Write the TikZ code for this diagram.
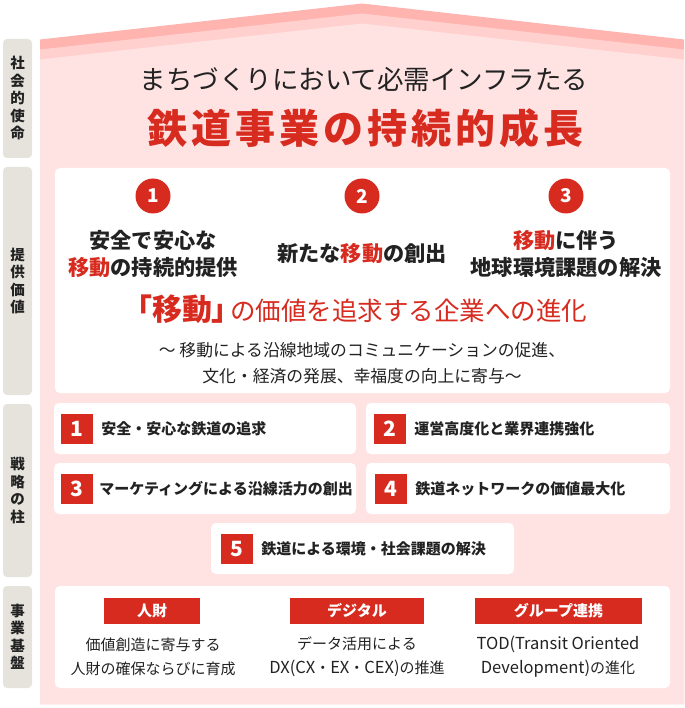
\documentclass[tikz,border=0pt]{standalone}
\usepackage{fontspec}
\setmainfont{Noto Sans CJK JP}
\definecolor{jred}{HTML}{D72B20}
\definecolor{roofdark}{HTML}{FFB4B0}
\definecolor{rooflight}{HTML}{FFD0CE}
\definecolor{pinkbg}{HTML}{FFE3E3}
\definecolor{tabgray}{HTML}{E6E3DD}
\definecolor{txt}{HTML}{222222}
\newcommand{\lat}[1]{{\fontsize{16.5}{24}\selectfont #1}}
\tikzset{
  tabbox/.style={fill=tabgray, rounded corners=4pt, minimum width=29pt, inner sep=0pt, text=txt,
    font=\fontsize{14.5}{17.5}\selectfont\bfseries, align=center},
  whitebox/.style={fill=white, rounded corners=5pt, inner sep=0pt},
  numcircle/.style={circle, fill=jred, minimum size=35pt, inner sep=0pt, text=white,
    font=\fontsize{19}{19}\selectfont\bfseries},
  numsq/.style={fill=jred, minimum width=32pt, minimum height=30pt, inner sep=0pt, text=white,
    font=\fontsize{21}{21}\selectfont\bfseries},
  valtxt/.style={text=txt, align=center, font=\fontsize{21.2}{27}\selectfont\bfseries},
  sttxt/.style={text=txt, anchor=west, inner sep=0pt, font=\fontsize{15}{15}\selectfont\bfseries},
  baselbl/.style={fill=jred, minimum height=26pt, inner sep=0pt, text=white,
    font=\fontsize{15}{15}\selectfont\bfseries},
  basetxt/.style={text=txt, align=center, font=\fontsize{15}{24}\selectfont},
}
\begin{document}
\begin{tikzpicture}[x=1pt,y=-1pt]
\useasboundingbox (0,0) rectangle (684,708);
% house
\fill[roofdark] (40,39.5) -- (362,3.5) -- (684,39.5) -- (684,704) -- (40,704) -- cycle;
\fill[rooflight] (40,49.5) -- (362,13.5) -- (684,49.5) -- (684,704) -- (40,704) -- cycle;
\fill[pinkbg] (40,59.5) -- (362,23.5) -- (684,59.5) -- (684,704) -- (40,704) -- cycle;
% side tabs
\node[tabbox, minimum height=119pt] (t1) at (17.5,98.5) {社\\会\\的\\使\\命};
\node[tabbox, minimum height=228pt] (t2) at (17.5,281) {提\\供\\価\\値};
\node[tabbox, minimum height=173pt] (t3) at (17.5,490.5) {戦\\略\\の\\柱};
\node[tabbox, minimum height=102pt] (t4) at (17.5,637) {事\\業\\基\\盤};
% mission
\node[text=txt, font=\fontsize{26.5}{26.5}\selectfont] (m1) at (364,79) {まちづくりにおいて必需インフラたる};
\node[text=jred, font=\fontsize{40}{40}\selectfont\bfseries\addfontfeature{LetterSpace=10}] (m2) at (365,128) {鉄道事業の持続的成長};
% value box
\node[whitebox, minimum width=615pt, minimum height=225pt] (vb) at (362.5,280.5) {};
\node[numcircle] (c1) at (153,196) {1};
\node[numcircle] (c2) at (362,196) {2};
\node[numcircle] (c3) at (566,196) {3};
\node[valtxt] (v1) at (153,254) {安全で安心な\\\textcolor{jred}{移動}の持続的提供};
\node[valtxt] (v2) at (362,254) {新たな\textcolor{jred}{移動}の創出};
\node[valtxt] (v3) at (566,254) {\textcolor{jred}{移動}に伴う\\地球環境課題の解決};
\node[text=jred, font=\fontsize{25.5}{25.5}\selectfont] (ev) at (362,309) {{\fontsize{30}{30}\selectfont\bfseries\addfontfeature{RawFeature=+palt}「移動」}\kern3pt の価値を追求する企業への進化};
\node[text=txt, align=center, font=\fontsize{16.8}{26}\selectfont] (evs) at (362,363) {〜 移動による沿線地域のコミュニケーションの促進、\\文化・経済の発展、幸福度の向上に寄与〜};
% strategy
\node[whitebox, minimum width=302pt, minimum height=51pt] (s1) at (205,428.5) {};
\node[whitebox, minimum width=304pt, minimum height=51pt] (s2) at (518,428.5) {};
\node[whitebox, minimum width=302pt, minimum height=51pt] (s3) at (205,488.5) {};
\node[whitebox, minimum width=304pt, minimum height=51pt] (s4) at (518,488.5) {};
\node[whitebox, minimum width=303pt, minimum height=51pt] (s5) at (362.5,548.5) {};
\node[numsq] (q1) at (77,429) {1};
\node[numsq] (q2) at (390,429) {2};
\node[numsq] (q3) at (77,489) {3};
\node[numsq] (q4) at (391,489) {4};
\node[numsq] (q5) at (237,549) {5};
\node[sttxt] (st1) at ([xshift=8pt]q1.east) {安全・安心な鉄道の追求};
\node[sttxt] (st2) at ([xshift=8pt]q2.east) {運営高度化と業界連携強化};
\node[sttxt] (st3) at ([xshift=6pt]q3.east) {マーケティングによる沿線活力の創出};
\node[sttxt] (st4) at ([xshift=8pt]q4.east) {鉄道ネットワークの価値最大化};
\node[sttxt] (st5) at ([xshift=8pt]q5.east) {鉄道による環境・社会課題の解決};
% base
\node[whitebox, minimum width=615pt, minimum height=102pt] (bb) at (362.5,637) {};
\node[baselbl, minimum width=96pt] (b1) at (152,611) {人財};
\node[baselbl, minimum width=134pt] (b2) at (357,611) {デジタル};
\node[baselbl, minimum width=167pt] (b3) at (558.5,611) {グループ連携};
\node[basetxt] (bt1) at (153,657) {価値創造に寄与する\\人財の確保ならびに育成};
\node[basetxt] (bt2) at (357,657) {データ活用による\\\lat{DX(CX}・\lat{EX}・\lat{CEX)}の推進};
\node[basetxt] (bt3) at (558,657) {\lat{TOD(Transit Oriented}\\\lat{Development)}の進化};
\end{tikzpicture}
\end{document}
